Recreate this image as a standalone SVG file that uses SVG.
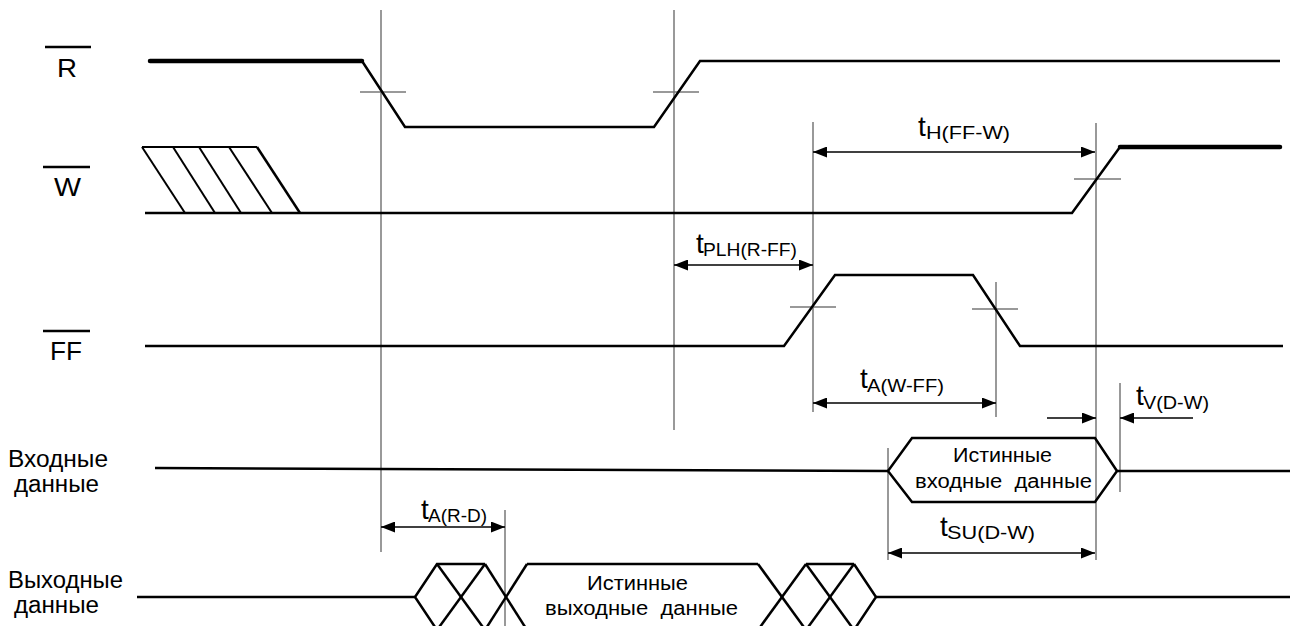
<svg xmlns="http://www.w3.org/2000/svg" width="1298" height="626" viewBox="0 0 1298 626">
<style>
  .sig{fill:none;stroke:#000;stroke-width:2.5;stroke-linejoin:miter;stroke-linecap:butt}
  .thick{fill:none;stroke:#000;stroke-width:4.5;stroke-linecap:round}
  .ref{fill:none;stroke:#555;stroke-width:1.2}
  .tick{fill:none;stroke:#777;stroke-width:1.5}
  .bar{stroke:#000;stroke-width:2.5}
  .dim{fill:none;stroke:#000;stroke-width:1.3}
  text{font-family:"Liberation Sans",Arial,sans-serif;fill:#000;white-space:pre}
  .lbl{font-size:26px}
  .side{font-size:23px}
  .t{font-size:28px}
  .sub{font-size:18px}
  .box{font-size:20px}
</style>
<defs>
  <marker id="ah" markerUnits="userSpaceOnUse" markerWidth="14" markerHeight="11" refX="14" refY="5.5" orient="auto-start-reverse" viewBox="0 0 14 11">
    <path d="M0,0 L14,5.5 L0,11 z" fill="#000"/>
  </marker>
</defs>
<rect width="1298" height="626" fill="#fff"/>

<g id="reflines">
  <line class="ref" x1="381" y1="10" x2="381" y2="552"/>
  <line class="ref" x1="674" y1="10" x2="674" y2="430"/>
  <line class="ref" x1="813" y1="122" x2="813" y2="412"/>
  <line class="ref" x1="1096" y1="123" x2="1096" y2="560"/>
  <line class="ref" x1="996" y1="282" x2="996" y2="417"/>
  <line class="ref" x1="1120" y1="383" x2="1120" y2="492"/>
  <line class="ref" x1="888" y1="448" x2="888" y2="560"/>
  <line class="ref" x1="505" y1="510" x2="505" y2="626"/>
  <line class="tick" x1="360" y1="92" x2="406" y2="92"/>
  <line class="tick" x1="653" y1="92" x2="699" y2="92"/>
  <line class="tick" x1="1074" y1="179" x2="1121" y2="179"/>
  <line class="tick" x1="790" y1="307" x2="836" y2="307"/>
  <line class="tick" x1="972" y1="309" x2="1018" y2="309"/>
</g>

<g id="signal-R">
  <line class="bar" x1="45" y1="47" x2="91" y2="47"/>
  <text class="lbl" x="57" y="77" textLength="20" lengthAdjust="spacingAndGlyphs">R</text>
  <line class="thick" x1="150" y1="61" x2="362" y2="61"/>
  <polyline class="sig" points="362,61 405,127 654,127 700,61 1280,61"/>
</g>

<g id="signal-W">
  <line class="bar" x1="43" y1="167" x2="90" y2="167"/>
  <text class="lbl" x="54" y="196" textLength="27" lengthAdjust="spacingAndGlyphs">W</text>
  <line class="sig" x1="142" y1="147" x2="257" y2="147" style="stroke-width:2"/>
  <line class="sig" x1="142" y1="147" x2="185" y2="213" style="stroke-width:2"/>
  <line class="sig" x1="173" y1="147" x2="215" y2="213" style="stroke-width:2"/>
  <line class="sig" x1="199" y1="147" x2="241" y2="213" style="stroke-width:2"/>
  <line class="sig" x1="229" y1="147" x2="272" y2="213" style="stroke-width:2"/>
  <line class="sig" x1="257" y1="147" x2="300" y2="213" style="stroke-width:2.5"/>
  <polyline class="sig" points="145,213 1072,213 1120,147"/>
  <line class="thick" x1="1120" y1="147" x2="1280" y2="147"/>
</g>

<g id="signal-FF">
  <line class="bar" x1="43" y1="331" x2="90" y2="331"/>
  <text class="lbl" x="50" y="360" textLength="32" lengthAdjust="spacingAndGlyphs">FF</text>
  <polyline class="sig" points="145,346 784,346 835,275 973,275 1020,346 1283,346"/>
</g>

<g id="signal-input">
  <text class="side" x="8" y="467" textLength="100" lengthAdjust="spacingAndGlyphs">Входные</text>
  <text class="side" x="14" y="492" textLength="85" lengthAdjust="spacingAndGlyphs">данные</text>
  <polyline class="sig" points="155,468 888,471"/>
  <polygon class="sig" points="888,471 912,438 1095,438 1117,471 1095,502 912,502"/>
  <line class="sig" x1="1117" y1="471" x2="1290" y2="471"/>
  <text class="box" x="953" y="462" textLength="99" lengthAdjust="spacingAndGlyphs">Истинные</text>
  <text class="box" x="915" y="488" textLength="177" lengthAdjust="spacingAndGlyphs">входные  данные</text>
</g>

<g id="signal-output">
  <text class="side" x="8" y="588" textLength="115" lengthAdjust="spacingAndGlyphs">Выходные</text>
  <text class="side" x="14" y="613" textLength="85" lengthAdjust="spacingAndGlyphs">данные</text>
  <line class="sig" x1="137" y1="597" x2="415" y2="597"/>
  <polyline class="sig" points="437,630 415,597 437,564 485,564"/>
  <line class="sig" x1="437" y1="564" x2="485" y2="630"/>
  <line class="sig" x1="437" y1="630" x2="485" y2="564"/>
  <line class="sig" x1="485" y1="564" x2="527" y2="630"/>
  <line class="sig" x1="485" y1="630" x2="527" y2="564"/>
  <line class="sig" x1="527" y1="564" x2="758" y2="564"/>
  <line class="sig" x1="758" y1="564" x2="806" y2="630"/>
  <line class="sig" x1="758" y1="630" x2="806" y2="564"/>
  <line class="sig" x1="806" y1="564" x2="854" y2="630"/>
  <line class="sig" x1="806" y1="630" x2="854" y2="564"/>
  <line class="sig" x1="806" y1="564" x2="854" y2="564"/>
  <polyline class="sig" points="854,564 876,597 854,630"/>
  <line class="sig" x1="876" y1="597" x2="1290" y2="597"/>
  <text class="box" x="587" y="590" textLength="101" lengthAdjust="spacingAndGlyphs">Истинные</text>
  <text class="box" x="545" y="615" textLength="193" lengthAdjust="spacingAndGlyphs">выходные  данные</text>
</g>

<g id="connectors">
  <line class="dim" x1="813" y1="152" x2="1095" y2="152" marker-start="url(#ah)" marker-end="url(#ah)"/>
  <line class="dim" x1="674" y1="265" x2="813" y2="265" marker-start="url(#ah)" marker-end="url(#ah)"/>
  <line class="dim" x1="813" y1="403" x2="996" y2="403" marker-start="url(#ah)" marker-end="url(#ah)"/>
  <line class="dim" x1="1047" y1="418" x2="1096" y2="418" marker-end="url(#ah)"/>
  <line class="dim" x1="1193" y1="418" x2="1120" y2="418" marker-end="url(#ah)"/>
  <line class="dim" x1="888" y1="553" x2="1095" y2="553" marker-start="url(#ah)" marker-end="url(#ah)"/>
  <line class="dim" x1="381" y1="527" x2="505" y2="527" marker-start="url(#ah)" marker-end="url(#ah)"/>
</g>

<g id="labels">
  <text class="t" x="918" y="136">t</text>
  <text class="sub" x="926" y="139" textLength="84" lengthAdjust="spacingAndGlyphs">H(FF-W)</text>
  <text class="t" x="696" y="253">t</text>
  <text class="sub" x="703" y="256" textLength="94" lengthAdjust="spacingAndGlyphs">PLH(R-FF)</text>
  <text class="t" x="860" y="388">t</text>
  <text class="sub" x="867" y="392" textLength="77" lengthAdjust="spacingAndGlyphs">A(W-FF)</text>
  <text class="t" x="1136" y="405">t</text>
  <text class="sub" x="1143" y="409" textLength="66" lengthAdjust="spacingAndGlyphs">V(D-W)</text>
  <text class="t" x="940" y="536">t</text>
  <text class="sub" x="947" y="539" textLength="88" lengthAdjust="spacingAndGlyphs">SU(D-W)</text>
  <text class="t" x="421" y="519">t</text>
  <text class="sub" x="428" y="522" textLength="59" lengthAdjust="spacingAndGlyphs">A(R-D)</text>
</g>
</svg>
